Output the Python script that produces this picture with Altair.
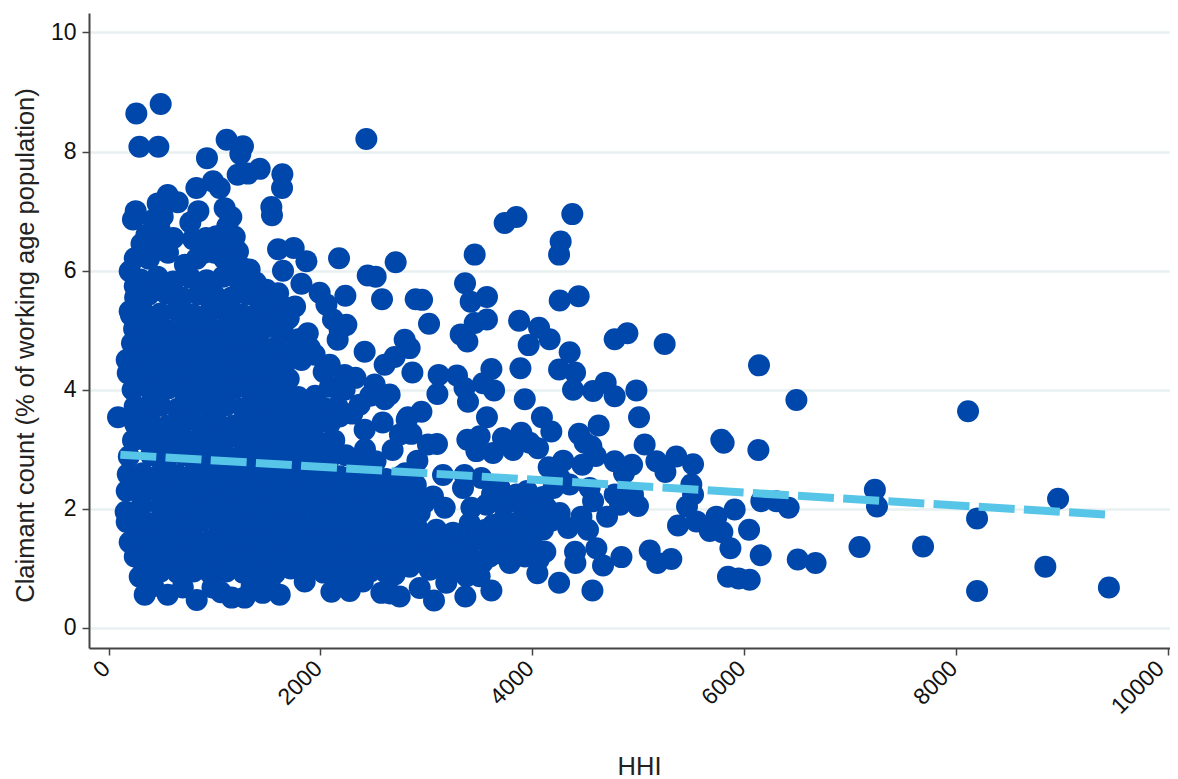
import altair as alt
import pandas as pd

# [HHI, claimant count %], grouped by region
upper_left = [[261,8.64],[491,8.80],[290,8.08],[469,8.08],[1114,8.20],[1268,8.09],[1243,7.96],[928,7.89],[1426,7.71],[1315,7.63],
[1218,7.61],[1640,7.62],[1637,7.39],[2433,8.21],[828,7.39],[985,7.50],[1048,7.39],[557,7.27],[652,7.15],[463,7.13],[847,7.0],
[771,6.81],[1095,7.05],[1158,6.9],[255,7.0],[229,6.86],[356,6.6],[510,6.91],[482,6.69],[796,6.53],[1017,6.58],[1190,6.57],
[1221,6.32],[1536,7.07],[1542,6.93],[1599,6.36],[1747,6.38],[1867,6.16],[2175,6.21],[1646,6.0],[1820,5.78],[246,6.21],[198,5.99],
[246,5.74],[198,5.32],[1331,6.02],[1992,5.63],[2446,5.92],[2521,5.90],[2710,6.14],[2235,5.58],[2581,5.52],[2056,5.43],[2118,5.18],
[2244,5.09],[1646,5.4],[1489,5.68],[1650,5.1],[88,3.54],[420,6.85],[400,6.4],[480,6.35],[350,6.3],[920,6.55],[1120,6.75],[1050,6.4],
[1170,6.2],[830,6.2],[1000,6.3]]

upper_mid = [[4378,6.95],[4268,6.49],[4253,6.27],[3850,6.90],[3739,6.80],[3456,6.27],[3365,5.79],[3572,5.56],[3418,5.48],[3572,5.18],
[3456,5.12],[3324,4.93],[3387,4.81],[2899,5.52],[2959,5.51],[3025,5.11],[4259,5.50],[4438,5.57],[3875,5.16],[4064,5.04],[4164,4.85],
[3966,4.75],[4353,4.63],[4253,4.34],[4404,4.29],[3888,4.36],[3929,3.84],[3614,4.35],[3116,4.25],[3289,4.24],[3104,3.93],[3360,4.03],
[3393,3.80],[3535,4.11],[3639,3.99],[2868,4.29],[2795,4.84],[2842,4.70],[4385,4.0],[4574,3.98],[4693,4.12],[4778,3.89],[4983,3.99],
[5008,3.54],[4778,4.85],[4898,4.95],[5250,4.77],[6141,4.41],[6494,3.83],[3572,3.54],[4091,3.54],[4180,3.30],[4627,3.40],[4441,3.26],
[2953,3.63],[2826,3.54],[2858,3.26],[3100,3.09],[3015,3.08],[2915,2.81]]

mid_band = [[3387,3.16],[3503,3.22],[3723,3.19],[3896,3.28],[4054,3.02],[3472,2.97],[3629,2.94],[3818,2.99],[3976,3.11],[4558,3.05],
[4495,3.11],[4599,2.89],[4473,2.74],[4292,2.81],[4155,2.70],[4778,2.80],[4942,2.74],[4866,2.60],[5061,3.08],[5172,2.80],[5360,2.88],
[5257,2.62],[5518,2.75],[5502,2.41],[5785,3.16],[5807,3.11],[6135,2.99],[3173,2.02],[3346,2.35],[3157,2.57],[3360,2.57],[3519,2.52],
[3692,2.35],[3850,2.24],[4007,2.15],[4133,2.02],[3758,2.10],[3915,2.02],[3425,2.02],[3567,2.07],[3409,1.76],[3629,1.73],[3818,1.76],
[4101,1.65],[3976,1.76],[2874,2.21],[2937,1.93],[3062,2.21],[2811,1.93],[4706,1.87],[4998,2.05],[4829,2.07],[4574,2.13],[4778,2.24],
[4951,2.24],[4353,2.41],[4542,2.35],[4259,2.52],[4464,1.87],[4338,1.68],[4526,1.65],[4259,1.93],[2900,2.4],[2980,2.1],[2800,2.6],
[3700,2.1],[3950,2.3],[4100,2.2],[4200,2.35],[3620,2.25],[4180,1.8],[4040,1.9],[3880,1.7],[3720,1.8],[3560,1.65]]

lower_mid = [[3692,1.48],[3850,1.51],[4007,1.37],[3787,1.09],[3598,1.20],[3440,1.15],[3251,1.20],[3062,1.31],[2906,1.37],[2906,1.71],
[3094,1.65],[3251,1.60],[2842,1.03],[3031,0.98],[3188,0.76],[3378,0.87],[3503,0.87],[2937,0.67],[2748,0.53],[3614,0.63],[3368,0.53],
[3072,0.46],[4568,0.63],[4407,1.09],[4253,0.76],[4048,0.92],[4404,1.28],[4123,1.28],[4842,1.19],[4668,1.05],[4605,1.34],[5109,1.30],
[5180,1.09],[5313,1.16],[2850,1.4],[2980,1.55],[3000,1.15],[3150,1.4],[3180,1.05],[3300,1.35],[3320,1.0],[3420,1.45],[3450,1.0],
[3560,1.45],[3530,1.1],[3700,1.25],[3780,1.3],[3860,1.25],[3930,1.5],[3930,1.2],[4060,1.15]]

right_side = [[5376,1.72],[5461,2.04],[5550,1.79],[5518,2.24],[5739,1.87],[5676,1.63],[5795,1.61],[5911,1.99],[6047,1.65],[5871,1.34],
[6157,1.22],[6163,2.13],[6305,2.13],[6421,2.02],[6507,1.15],[5848,0.86],[5949,0.83],[6053,0.81],[6675,1.09],[7090,1.36],[7690,1.37],
[7235,2.32],[7255,2.04],[8115,3.64],[8200,1.84],[8200,0.62],[8845,1.03],[8965,2.17],[9445,0.68]]

# solid part of the cloud
cloud_top = [[300,5.85],[460,5.9],[610,5.82],[770,5.88],[925,5.84],[1080,5.9],[1230,5.83],[1390,5.8],[380,6.2],[560,6.3],[720,6.1],[900,6.3],
[1090,6.2],[1260,6.05],[310,6.45],[610,6.55],[1130,6.45],
[250,5.55],[380,5.6],[540,5.62],[690,5.55],[850,5.6],[1005,5.58],[1160,5.55],[1310,5.6],[1470,5.5],[1600,5.62],[1760,5.4],
[210,5.25],[330,5.3],[490,5.28],[640,5.33],[790,5.27],[950,5.3],[1100,5.32],[1260,5.26],[1410,5.3],[1560,5.24],[1700,5.2],[1880,4.95],
[240,5.02],[400,5.05],[560,5.0],[710,5.06],[870,5.03],[1030,5.0],[1180,5.04],[1340,5.02],[1490,5.05],[1640,4.95],[1790,4.85],
[220,4.78],[340,4.8],[500,4.75],[650,4.82],[800,4.77],[960,4.8],[1110,4.76],[1270,4.8],[1420,4.78],[1580,4.72],[1730,4.62],[1900,4.7],
[170,4.5],[300,4.52],[440,4.55],[590,4.5],[740,4.53],[900,4.49],[1050,4.54],[1200,4.5],[1360,4.52],[1510,4.48],[1660,4.42],[1820,4.5],
[180,4.28],[340,4.25],[490,4.27],[650,4.24],[800,4.28],[960,4.22],[1110,4.26],[1270,4.24],[1420,4.26],[1570,4.2],[1700,4.18],[2030,4.3],
[226,4.0],[400,3.98],[560,4.02],[710,3.97],[870,4.0],[1030,3.96],[1180,4.01],[1340,3.98],[1490,3.95],[1640,3.92],[1790,3.88],[1950,3.9],[2090,4.05]]

cloud_mid = [[245,3.72],[340,3.7],[490,3.73],[650,3.68],[800,3.72],[960,3.7],[1110,3.74],[1270,3.69],[1420,3.72],[1570,3.68],[1720,3.66],
[1880,3.65],[2030,3.7],[2160,3.72],[2300,3.6],
[250,3.42],[400,3.44],[560,3.4],[710,3.45],[870,3.41],[1030,3.44],[1180,3.4],[1340,3.43],[1490,3.42],[1640,3.4],[1790,3.38],[1950,3.4],[2090,3.44],[2180,3.55],
[230,3.15],[340,3.16],[490,3.14],[650,3.18],[800,3.13],[960,3.15],[1110,3.17],[1270,3.13],[1420,3.16],[1570,3.12],[1720,3.14],[1880,3.12],[2030,3.1],[2130,3.15],[2420,3.0],
[190,2.88],[400,2.9],[560,2.87],[710,2.9],[870,2.86],[1030,2.89],[1180,2.85],[1340,2.88],[1490,2.86],[1640,2.87],[1790,2.84],[1950,2.85],[2090,2.86],[2240,2.9],[2380,2.82],[2520,2.8],
[180,2.58],[320,2.6],[490,2.6],[650,2.57],[800,2.6],[960,2.58],[1110,2.6],[1270,2.56],[1420,2.6],[1570,2.57],[1720,2.58],[1880,2.57],[2030,2.6],[2180,2.55],[2320,2.58],[2470,2.55],[2620,2.5],[2760,2.55],
[170,2.3],[250,2.34],[400,2.32],[560,2.3],[710,2.33],[870,2.3],[1030,2.32],[1180,2.3],[1340,2.33],[1490,2.3],[1640,2.32],[1790,2.3],[1950,2.32],[2090,2.3],[2240,2.32],[2380,2.28],[2530,2.3],[2680,2.3],[2820,2.27]]

cloud_low = [[160,1.95],[310,2.05],[490,2.04],[650,2.06],[800,2.03],[960,2.05],[1110,2.03],[1270,2.05],[1420,2.02],[1570,2.05],[1720,2.03],[1880,2.06],[2030,2.03],[2180,2.05],[2320,2.02],[2470,2.04],[2620,2.02],[2760,2.05],
[170,1.78],[250,1.78],[400,1.76],[560,1.78],[710,1.75],[870,1.78],[1030,1.76],[1180,1.78],[1340,1.75],[1490,1.78],[1640,1.76],[1790,1.77],[1950,1.75],[2090,1.78],[2240,1.76],[2380,1.78],[2530,1.75],[2680,1.76],[2780,1.72],
[198,1.44],[330,1.5],[490,1.5],[650,1.48],[800,1.5],[960,1.47],[1110,1.5],[1270,1.48],[1420,1.5],[1570,1.47],[1720,1.5],[1880,1.48],[2030,1.5],[2180,1.47],[2320,1.5],[2470,1.48],[2620,1.5],[2760,1.47],
[246,1.2],[400,1.22],[560,1.2],[710,1.23],[870,1.2],[1030,1.22],[1180,1.2],[1340,1.22],[1490,1.2],[1640,1.2],[1790,1.22],[1950,1.2],[2090,1.22],[2240,1.2],[2380,1.22],[2530,1.2],[2680,1.22],[2800,1.2],
[293,0.86],[330,0.95],[490,0.95],[650,0.93],[800,0.95],[960,0.92],[1110,0.95],[1270,0.93],[1420,0.94],[1570,0.92],[1720,1.0],[1880,0.95],[2030,0.93],[2180,0.95],[2320,0.92],[2470,0.95],[2620,0.93],[2700,0.9],
[340,0.56],[557,0.56],[420,0.7],[700,0.68],[831,0.47],[980,0.68],[1161,0.51],[1284,0.51],[1454,0.59],[1615,0.56],[1851,0.78],[2103,0.61],[2276,0.62],[2575,0.59],[2660,0.58],[1060,0.6],[1350,0.7],[1520,0.72],[2190,0.75],[2400,0.78]]

cloud_right = [[2417,4.64],[2606,4.42],[2700,4.55],[2512,4.09],[2606,3.84],[2370,3.75],[2653,3.92],[2587,3.45],[2681,2.99],[2417,3.33],
[2228,4.25],[2228,4.0],[2087,4.42],[1945,4.59],[2181,5.01],[2162,4.84],[2814,3.5],[2330,4.2],[2470,3.9],[2750,3.25]]

fit_hhi = [110, 9425]
fit_claim = [2.91, 1.905]

x_ticks = [0, 2000, 4000, 6000, 8000, 10000]
y_ticks = [0, 2, 4, 6, 8, 10]

pts = upper_left + upper_mid + mid_band + lower_mid + right_side + cloud_top + cloud_mid + cloud_low + cloud_right
df = pd.DataFrame(pts, columns=["hhi", "claim"])
fit = pd.DataFrame({"hhi": fit_hhi, "claim": fit_claim})

FONT = "Liberation Sans"
x_scale = alt.Scale(domain=[-186, 10022], nice=False, zero=False)
y_scale = alt.Scale(domain=[-0.336, 10.327], nice=False, zero=False)

x_axis = alt.Axis(
    title="HHI", values=x_ticks, grid=False, labelAngle=315, labelFontSize=23, titleFontSize=25.5,
    labelFont=FONT, titleFont=FONT, labelColor="#111111", titleColor="#222222", titleFontWeight="normal",
    domainColor="#444444", domainWidth=2, tickColor="#444444", tickWidth=1.5, tickSize=7, labelPadding=18,
    labelBaseline="bottom", labelAlign="right",
    labelOffset={"condition": {"test": "datum.value == 10000", "value": 1}, "value": 6},
    titleX=550, titleY=126, titleBaseline="alphabetic", labelFlush=False, labelOverlap=False, format="d",
)
y_axis = alt.Axis(
    title="Claimant count (% of working age population)", values=y_ticks, grid=True, gridColor="#e8f0f1",
    gridWidth=2.5, labelFontSize=23, titleFontSize=25.5, labelFont=FONT, titleFont=FONT, labelColor="#111111",
    titleColor="#222222", titleFontWeight="normal", domainColor="#444444", domainWidth=2, tickColor="#444444",
    tickWidth=1.5, tickSize=7, labelPadding=6, titleX=-56, titleY=332, titleBaseline="alphabetic", format="d",
)

points = alt.Chart(df).mark_point(filled=True, opacity=1, size=484, color="#0047AB", strokeWidth=0).encode(
    x=alt.X("hhi:Q", scale=x_scale, axis=x_axis),
    y=alt.Y("claim:Q", scale=y_scale, axis=y_axis),
)
line = alt.Chart(fit).mark_line(color="#56C5E8", strokeWidth=8, strokeDash=[36, 9.26]).encode(
    x=alt.X("hhi:Q", scale=x_scale),
    y=alt.Y("claim:Q", scale=y_scale),
)

chart = (points + line).properties(
    width=1081, height=635,
    autosize=alt.AutoSizeParams(type="none"),
    padding={"left": 81, "top": 5, "right": 0, "bottom": 132},
).configure_view(stroke=None)

chart.save("out.html", embed_options={"renderer": "svg", "actions": False})
